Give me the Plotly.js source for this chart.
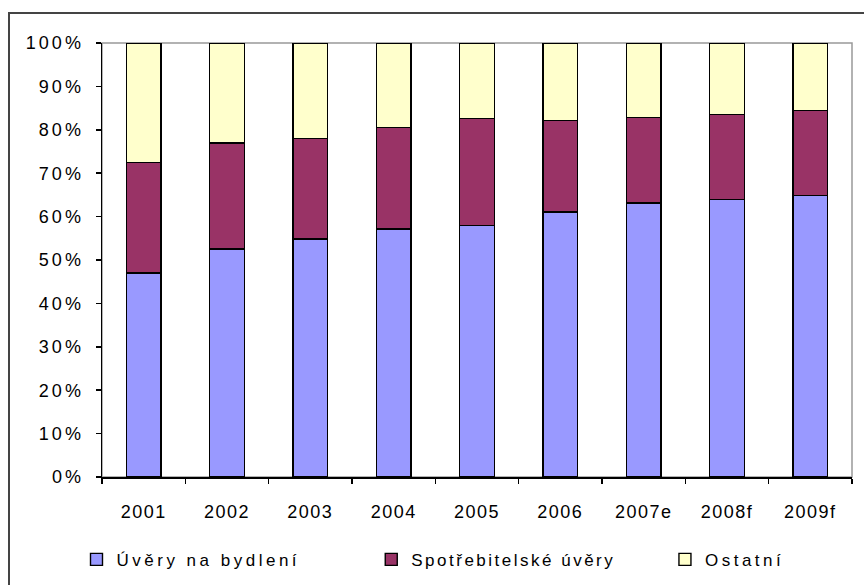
<!DOCTYPE html>
<html>
<head>
<meta charset="utf-8">
<script src="https://cdn.plot.ly/plotly-3.0.1.min.js"></script>
<style>
  html, body { margin: 0; padding: 0; background: #fff; overflow: hidden; }
  #chart { width: 864px; height: 585px; }
  #frame { position: absolute; left: 8px; top: 12px; width: 900px; height: 700px;
           border-left: 2px solid #444; border-top: 2px solid #444; pointer-events: none; }
  .xtick text { letter-spacing: 1.5px; }
  .ytick text { letter-spacing: 3px; }
  .legendtext { letter-spacing: 3.5px; }
  .legend2text { letter-spacing: 2.5px; }
  .legend3text { letter-spacing: 3.5px; }
</style>
</head>
<body>
<div id="chart"></div>
<div id="frame"></div>
<script>
const categories = ['2001', '2002', '2003', '2004', '2005', '2006', '2007e', '2008f', '2009f'];
const housingLoans = [47.0, 52.5, 54.8, 57.1, 58.0, 61.1, 63.1, 64.0, 64.9];
const consumerLoans = [25.4, 24.5, 23.2, 23.5, 24.6, 21.1, 19.8, 19.5, 19.6];
const otherLoans = [27.6, 23.0, 22.0, 19.4, 17.4, 17.8, 17.1, 16.5, 15.5];
const seriesNames = ['Úvěry na bydlení', 'Spotřebitelské úvěry', 'Ostatní'];
const yTicks = [0, 10, 20, 30, 40, 50, 60, 70, 80, 90, 100];

const colors = ['#9999FF', '#993366', '#FFFFCC'];
const values = [housingLoans, consumerLoans, otherLoans];
const legendIds = ['legend', 'legend2', 'legend3'];

const traces = values.map((v, i) => ({
  type: 'bar',
  name: seriesNames[i],
  x: categories,
  y: v,
  legend: legendIds[i],
  marker: { color: colors[i], line: { color: '#000000', width: 1.4 } },
  hoverinfo: 'x+y+name'
}));

const fontFamily = 'Liberation Sans, Arial, sans-serif';
const legendBase = {
  orientation: 'h',
  yref: 'container',
  yanchor: 'middle',
  xanchor: 'left',
  y: 0.043,
  bgcolor: 'rgba(0,0,0,0)',
  font: { family: fontFamily, size: 17, color: '#000' }
};

const layout = {
  width: 864,
  height: 585,
  margin: { l: 102, r: 12, t: 43, b: 108 },
  paper_bgcolor: '#ffffff',
  plot_bgcolor: '#ffffff',
  barmode: 'stack',
  bargap: 0.584,
  font: { family: fontFamily, size: 18, color: '#000' },
  xaxis: {
    type: 'category',
    automargin: false,
    showline: true,
    linecolor: '#000',
    linewidth: 1.5,
    ticks: 'outside',
    tickson: 'boundaries',
    ticklen: 5,
    tickcolor: '#000',
    tickwidth: 1.5,
    ticklabelstandoff: 18,
    showgrid: false,
    zeroline: false,
    tickfont: { family: fontFamily, size: 18, color: '#000' }
  },
  yaxis: {
    range: [0, 100],
    automargin: false,
    tickvals: yTicks,
    ticktext: yTicks.map(t => t + '%'),
    showline: true,
    linecolor: '#000',
    linewidth: 1.5,
    ticks: 'outside',
    ticklen: 5,
    tickcolor: '#000',
    tickwidth: 1.5,
    ticklabelstandoff: 8,
    showgrid: false,
    zeroline: false,
    tickfont: { family: fontFamily, size: 18, color: '#000' }
  },
  shapes: [{
    type: 'rect', xref: 'paper', yref: 'paper', x0: 0, x1: 1, y0: 0, y1: 1,
    line: { color: '#999999', width: 1.5 }, layer: 'below'
  }],
  legend: Object.assign({}, legendBase, { x: -0.034 }),
  legend2: Object.assign({}, legendBase, { x: 0.359 }),
  legend3: Object.assign({}, legendBase, { x: 0.7506 }),
  showlegend: true
};

Plotly.newPlot('chart', traces, layout, { displayModeBar: false, staticPlot: true });
</script>
</body>
</html>
